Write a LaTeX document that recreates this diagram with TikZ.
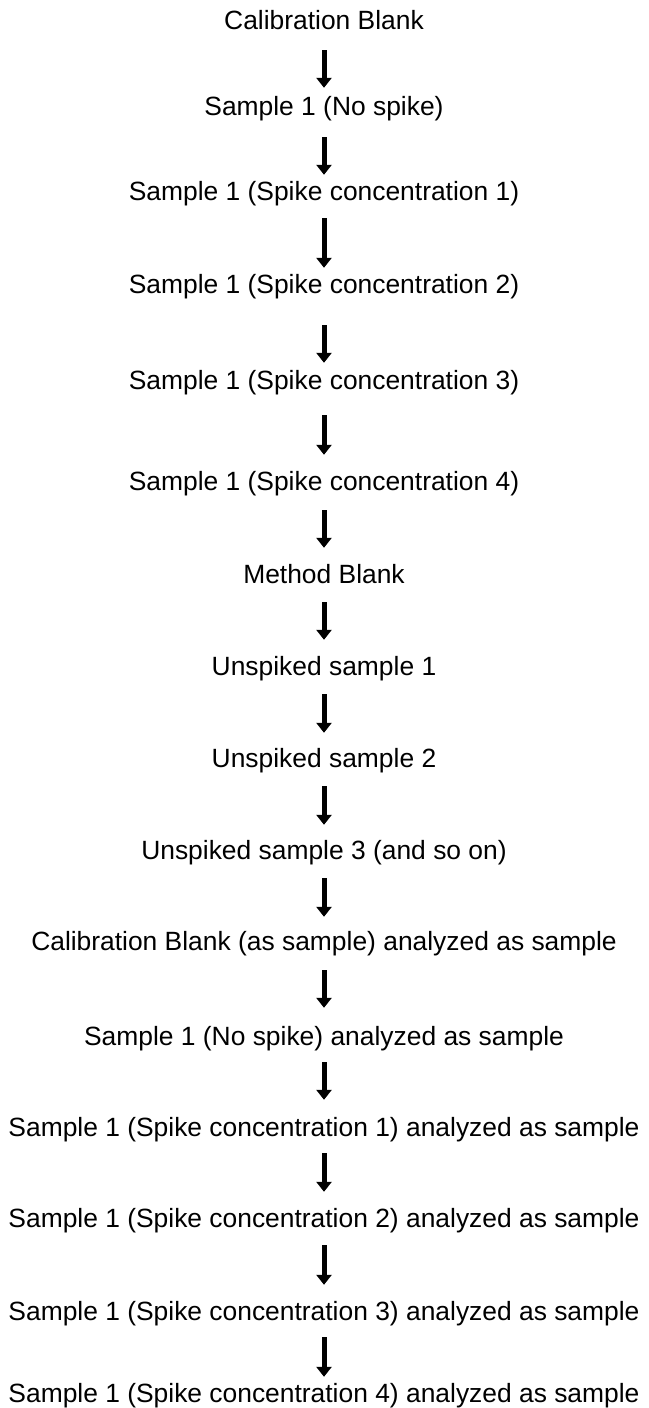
\documentclass[tikz,border=0pt]{standalone}
\usepackage{fontspec}
\setmainfont{Liberation Sans}
\usepackage{tikz}
\usetikzlibrary{arrows.meta}

\begin{document}
\begin{tikzpicture}[x=1pt, y=-1pt,
        step_style/.style={anchor=base, inner sep=0pt, text height=19pt, text depth=0pt,
            font=\fontsize{26.4}{30}\selectfont},
        edge_style/.style={draw=black, line width=5pt, shorten <=19pt, shorten >=15pt,
            -{Triangle[width=15pt,length=10pt]}}]

        \useasboundingbox (0,0) rectangle (648,1408);

        \node [step_style](n1) at (324,29) {Calibration Blank};

        \node [step_style](n2) at (324,115) {Sample 1 (No spike)};

        \node [step_style](n3) at (324,200) {Sample 1 (Spike concentration 1)};

        \node [step_style](n4) at (324,293) {Sample 1 (Spike concentration 2)};

        \node [step_style](n5) at (324,389) {Sample 1 (Spike concentration 3)};

        \node [step_style](n6) at (324,490) {Sample 1 (Spike concentration 4)};

        \node [step_style](n7) at (324,583) {Method Blank};

        \node [step_style](n8) at (324,675) {Unspiked sample 1};

        \node [step_style](n9) at (324,767) {Unspiked sample 2};

        \node [step_style](n10) at (324,859) {Unspiked sample 3 (and so on)};

        \node [step_style](n11) at (324,950) {Calibration Blank (as sample) analyzed as sample};

        \node [step_style](n12) at (324,1045) {Sample 1 (No spike) analyzed as sample};

        \node [step_style](n13) at (324,1136) {Sample 1 (Spike concentration 1) analyzed as sample};

        \node [step_style](n14) at (324,1227) {Sample 1 (Spike concentration 2) analyzed as sample};

        \node [step_style](n15) at (324,1320) {Sample 1 (Spike concentration 3) analyzed as sample};

        \node [step_style](n16) at (324,1402) {Sample 1 (Spike concentration 4) analyzed as sample};

        \draw [edge_style, shorten <=21pt, shorten >=8pt] (n1) edge (n2);

        \draw [edge_style, shorten <=22pt, shorten >=6pt] (n2) edge (n3);

        \draw [edge_style, shorten <=18pt, shorten >=6pt] (n3) edge (n4);

        \draw [edge_style, shorten <=32pt, shorten >=7pt] (n4) edge (n5);

        \draw [edge_style, shorten <=26pt, shorten >=16pt] (n5) edge (n6);

        \draw [edge_style, shorten <=20pt, shorten >=16pt] (n6) edge (n7);

        \draw [edge_style, shorten >=16pt] (n7) edge (n8);

        \draw [edge_style] (n8) edge (n9);

        \draw [edge_style] (n9) edge (n10);

        \draw [edge_style, shorten >=14pt] (n10) edge (n11);

        \draw [edge_style, shorten <=20pt, shorten >=18pt] (n11) edge (n12);

        \draw [edge_style, shorten <=17pt, shorten >=17pt] (n12) edge (n13);

        \draw [edge_style, shorten <=17pt, shorten >=16pt] (n13) edge (n14);

        \draw [edge_style, shorten <=18pt, shorten >=16pt] (n14) edge (n15);

        \draw [edge_style, shorten <=17pt, shorten >=6pt] (n15) edge (n16);

        \end{tikzpicture}
\end{document}
